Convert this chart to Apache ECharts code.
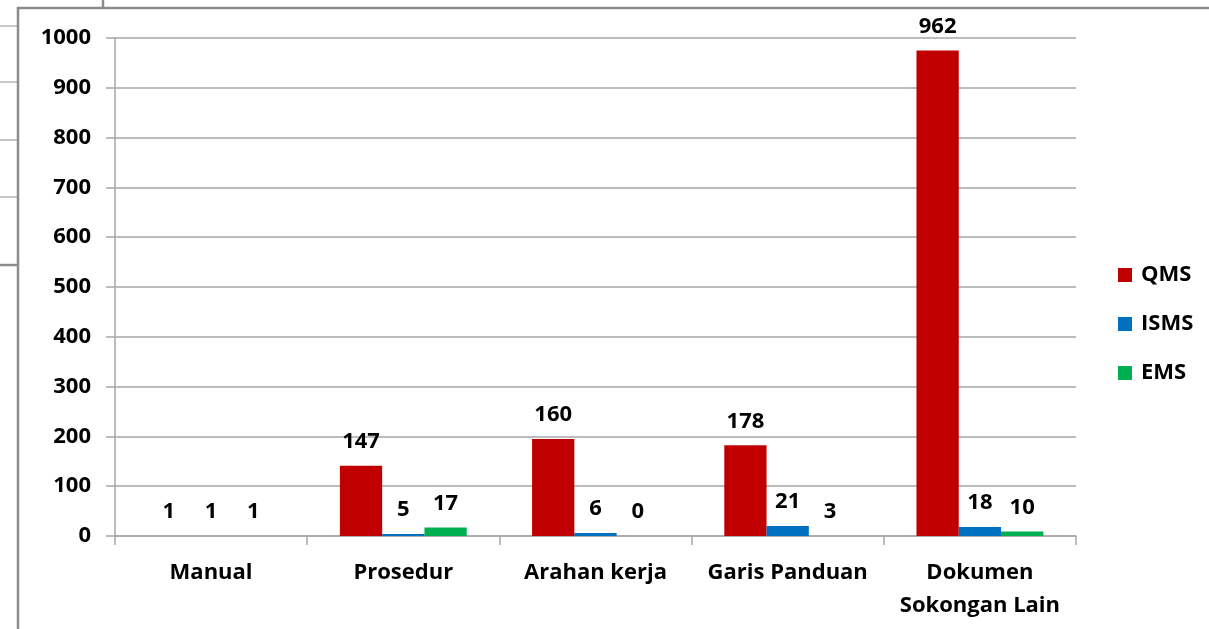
<!DOCTYPE html>
<html>
<head>
<meta charset="utf-8">
<script src="https://cdn.jsdelivr.net/npm/echarts@6/dist/echarts.min.js"></script>
<style>
html, body { margin: 0; padding: 0; background: #fff; }
#chart { width: 1209px; height: 629px; }
</style>
</head>
<body>
<div id="chart"></div>
<script>
var categories = ['Manual', 'Prosedur', 'Arahan kerja', 'Garis Panduan', 'Dokumen\nSokongan Lain']
// bar heights as drawn
var qmsData = [0, 141, 195, 182, 975]
var ismsData = [0, 4, 6, 20, 18]
var emsData = [0, 17, 0, 0, 9]
// numbers printed above the bars
var qmsLabels = ['1', '147', '160', '178', '962']
var ismsLabels = ['1', '5', '6', '21', '18']
var emsLabels = ['1', '17', '0', '3', '10']

var font = '"Open Sans", Lato, sans-serif'
var axisGray = '#a6a6a6'

function labelFrom(arr) {
    return {
        show: true,
        position: 'top',
        distance: 13,
        color: '#000',
        fontFamily: font,
        fontWeight: 'bold',
        fontSize: 22,
        formatter: function (p) { return arr[p.dataIndex] }
    }
}

var chart = echarts.init(document.getElementById('chart'))
var option = {
    animation: false,
    backgroundColor: '#fff',
    grid: { left: 115, right: 133, top: 38, bottom: 93 },
    legend: {
        orient: 'vertical',
        left: 1113,
        top: 259,
        itemWidth: 14,
        itemHeight: 14,
        itemGap: 27,
        icon: 'rect',
        textStyle: { fontFamily: font, fontWeight: 'bold', fontSize: 22, color: '#000', padding: [0, 0, 0, 4] },
        data: ['QMS', 'ISMS', 'EMS']
    },
    xAxis: {
        type: 'category',
        data: categories,
        axisLine: { lineStyle: { color: axisGray, width: 1.5 } },
        axisTick: { show: true, length: 9, inside: false, lineStyle: { color: axisGray, width: 1.5 } },
        axisLabel: { margin: 20, color: '#000', fontFamily: font, fontWeight: 'bold', fontSize: 22, lineHeight: 33, interval: 0 }
    },
    yAxis: {
        type: 'value',
        min: 0,
        max: 1000,
        interval: 100,
        axisLine: { show: true, lineStyle: { color: axisGray, width: 1.5 } },
        axisTick: { show: true, length: 9, lineStyle: { color: axisGray, width: 1.5 } },
        axisLabel: { margin: 24, color: '#000', fontFamily: font, fontWeight: 'bold', fontSize: 22,
                     formatter: function (v) { return String(v) } },
        splitLine: { lineStyle: { color: axisGray, width: 1.5 } }
    },
    series: [
        { name: 'QMS', type: 'bar', data: qmsData, barGap: '0%', barCategoryGap: '34%',
          itemStyle: { color: '#C00000' }, label: labelFrom(qmsLabels) },
        { name: 'ISMS', type: 'bar', data: ismsData,
          itemStyle: { color: '#0070C0' }, label: labelFrom(ismsLabels) },
        { name: 'EMS', type: 'bar', data: emsData,
          itemStyle: { color: '#00B050' }, label: labelFrom(emsLabels) }
    ],
    graphic: [
        // spreadsheet cell lines showing around the chart frame
        { type: 'line', silent: true, shape: { x1: 0, y1: 26, x2: 18, y2: 26 }, style: { stroke: '#b4b4b4', lineWidth: 1.5 } },
        { type: 'line', silent: true, shape: { x1: 0, y1: 82, x2: 18, y2: 82 }, style: { stroke: '#b4b4b4', lineWidth: 1.5 } },
        { type: 'line', silent: true, shape: { x1: 0, y1: 140, x2: 18, y2: 140 }, style: { stroke: '#b4b4b4', lineWidth: 1.5 } },
        { type: 'line', silent: true, shape: { x1: 0, y1: 197, x2: 18, y2: 197 }, style: { stroke: '#b4b4b4', lineWidth: 1.5 } },
        { type: 'line', silent: true, shape: { x1: 0, y1: 265, x2: 18, y2: 265 }, style: { stroke: '#8c8c8c', lineWidth: 2.5 } },
        { type: 'line', silent: true, shape: { x1: 103, y1: 0, x2: 103, y2: 8 }, style: { stroke: '#8c8c8c', lineWidth: 2.5 } },
        // chart frame
        { type: 'polyline', silent: true, shape: { points: [[18, 629], [18, 8], [1209, 8]] }, style: { stroke: '#8c8c8c', lineWidth: 2.5, fill: null } }
    ]
}
chart.setOption(option)
window.addEventListener('resize', function () { chart.resize() })
</script>
</body>
</html>
